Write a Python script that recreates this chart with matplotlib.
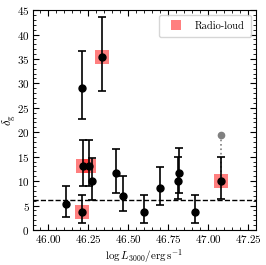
import numpy as np
import matplotlib
matplotlib.use('Agg')
from matplotlib import pyplot as plt
from matplotlib.ticker import MultipleLocator

plt.rcParams['font.family'] = 'serif'
plt.rcParams['font.serif'] = ['cmr10']
plt.rcParams['mathtext.fontset'] = 'cm'
plt.rcParams['axes.formatter.use_mathtext'] = True
plt.rcParams['font.size'] = 8

# sources: log L3000, delta_g and its error bars
logL = [46.11, 46.21, 46.217, 46.258, 46.275, 46.21, 46.336, 46.425, 46.467,
        46.598, 46.698, 46.81, 46.82, 46.92, 47.08]
delta = [5.3, 3.7, 13.2, 13.2, 10.1, 29.1, 35.4, 11.6, 6.9,
         3.7, 8.5, 10.1, 11.6, 3.7, 10.1]
err_hi = [9.1, 7.1, 18.5, 18.5, 14.7, 36.6, 43.6, 16.6, 11.0,
          7.1, 12.9, 14.9, 16.7, 7.1, 14.9]
err_lo = [2.7, 1.5, 9.0, 9.0, 6.2, 22.7, 28.4, 7.6, 3.8,
          1.4, 5.1, 6.3, 7.6, 1.4, 6.3]
radio_loud = [False, True, True, True, False, False, True, False, False,
              False, False, False, False, False, True]

# upper value shown in grey for the last source
alt_x = 47.08
alt_lo = 10.1
alt_hi = 19.5

mean_level = 6.1

logL = np.array(logL)
delta = np.array(delta)
yerr = np.array([delta - np.array(err_lo), np.array(err_hi) - delta])
rl = np.array(radio_loud)

fig = plt.figure(figsize=(2.66, 2.65), dpi=100)
ax = fig.add_axes([0.124, 0.132, 0.838, 0.830])

ax.plot(logL[rl], delta[rl], 's', color='red', alpha=0.5, ms=9.5, mew=0,
        label='Radio-loud', zorder=1)
ax.plot([alt_x, alt_x], [alt_lo, alt_hi], ':', color='grey', lw=1.2, zorder=1)
ax.plot(alt_x, alt_hi, 'o', color='grey', ms=4.5, zorder=2)
ax.errorbar(logL, delta, yerr=yerr, fmt='o', color='black', ms=5,
            capsize=3, elinewidth=1.2, capthick=1.2, zorder=3)
ax.axhline(mean_level, color='black', ls='--', lw=1.0, zorder=0)

ax.set_xlim(45.906, 47.3)
ax.set_ylim(0, 45)
ax.xaxis.set_major_locator(MultipleLocator(0.25))
ax.xaxis.set_minor_locator(MultipleLocator(0.05))
ax.yaxis.set_major_locator(MultipleLocator(5))
ax.yaxis.set_minor_locator(MultipleLocator(1))
ax.tick_params(which='both', direction='in', top=True, right=True)
ax.tick_params(which='major', length=4, pad=2.5)
ax.tick_params(which='minor', length=2)

ax.set_xlabel(r'$\log L_{3000}/{\rm erg\,s^{-1}}$', labelpad=1)
ax.set_ylabel(r'$\delta_{\rm g}$', labelpad=-1, fontsize=9)
ax.legend(loc='upper right', fontsize=7.5, markerscale=0.8, borderpad=0.6)

fig.savefig('out.png', dpi=100)
